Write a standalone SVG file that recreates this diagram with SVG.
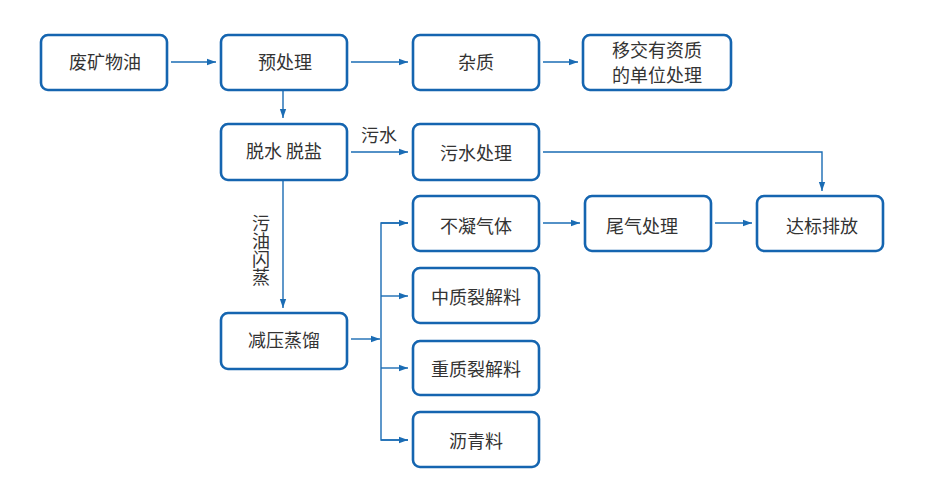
<svg xmlns="http://www.w3.org/2000/svg" width="940" height="500" viewBox="0 0 940 500">
<style>
.n rect{fill:#fff;stroke:#1565b0;stroke-width:2.6}
text{font-family:"Noto Sans CJK SC","Noto Sans",sans-serif;font-size:18px;fill:#333;text-anchor:middle}
.c path{fill:none;stroke:#1a6cb4;stroke-width:1.4}
</style>
<defs>
<marker id="a" viewBox="0 0 10 10" refX="10" refY="5" markerWidth="9" markerHeight="9" markerUnits="userSpaceOnUse" orient="auto"><path d="M0,1.5L10,5L0,8.5z" fill="#1a6cb4"/></marker>
</defs>
<rect width="940" height="500" fill="#fff"/>
<g class="c">
<path d="M171,62H216" marker-end="url(#a)"/>
<path d="M351,62H408" marker-end="url(#a)"/>
<path d="M543,62H578" marker-end="url(#a)"/>
<path d="M283,91V118" marker-end="url(#a)"/>
<path d="M351,152H408" marker-end="url(#a)"/>
<path d="M283,181V308" marker-end="url(#a)"/>
<path d="M543,152H822V191" marker-end="url(#a)"/>
<path d="M351,339H380" marker-end="url(#a)"/>
<path d="M408,223H381V440H408" />
<path d="M381,223H408" marker-end="url(#a)"/>
<path d="M381,296H408" marker-end="url(#a)"/>
<path d="M381,368H408" marker-end="url(#a)"/>
<path d="M381,440H408" marker-end="url(#a)"/>
<path d="M543,223H580" marker-end="url(#a)"/>
<path d="M715,223H752" marker-end="url(#a)"/>
</g>
<text x="379" y="142" font-size="17">污水</text>
<text x="261" y="214" font-size="17" style="writing-mode:vertical-rl;text-anchor:start">污油闪蒸</text>
<g id="n1" class="n"><rect x="41" y="35" width="126" height="55" rx="7"/><text x="105" y="69">废矿物油</text></g>
<g id="n2" class="n"><rect x="221" y="35" width="126" height="55" rx="7"/><text x="285" y="69">预处理</text></g>
<g id="n3" class="n"><rect x="413" y="35" width="126" height="55" rx="7"/><text x="476" y="69">杂质</text></g>
<g id="n4" class="n"><rect x="583" y="35" width="148" height="55" rx="7"/><text x="657" y="57" font-size="17">移交有资质<tspan x="657" dy="25">的单位处理</tspan></text></g>
<g id="n5" class="n"><rect x="221" y="124" width="126" height="56" rx="7"/><text x="284" y="158">脱水 脱盐</text></g>
<g id="n6" class="n"><rect x="413" y="124" width="126" height="56" rx="7"/><text x="476" y="160">污水处理</text></g>
<g id="n7" class="n"><rect x="221" y="313" width="126" height="56" rx="7"/><text x="284" y="347">减压蒸馏</text></g>
<g id="n8" class="n"><rect x="413" y="196" width="126" height="55" rx="7"/><text x="476" y="233">不凝气体</text></g>
<g id="n9" class="n"><rect x="413" y="268" width="126" height="55" rx="7"/><text x="476" y="304">中质裂解料</text></g>
<g id="n10" class="n"><rect x="413" y="341" width="126" height="54" rx="7"/><text x="476" y="376">重质裂解料</text></g>
<g id="n11" class="n"><rect x="413" y="412" width="126" height="55" rx="7"/><text x="476" y="448">沥青料</text></g>
<g id="n12" class="n"><rect x="585" y="196" width="126" height="55" rx="7"/><text x="642" y="233">尾气处理</text></g>
<g id="n13" class="n"><rect x="757" y="196" width="126" height="55" rx="7"/><text x="822" y="233">达标排放</text></g>
</svg>
